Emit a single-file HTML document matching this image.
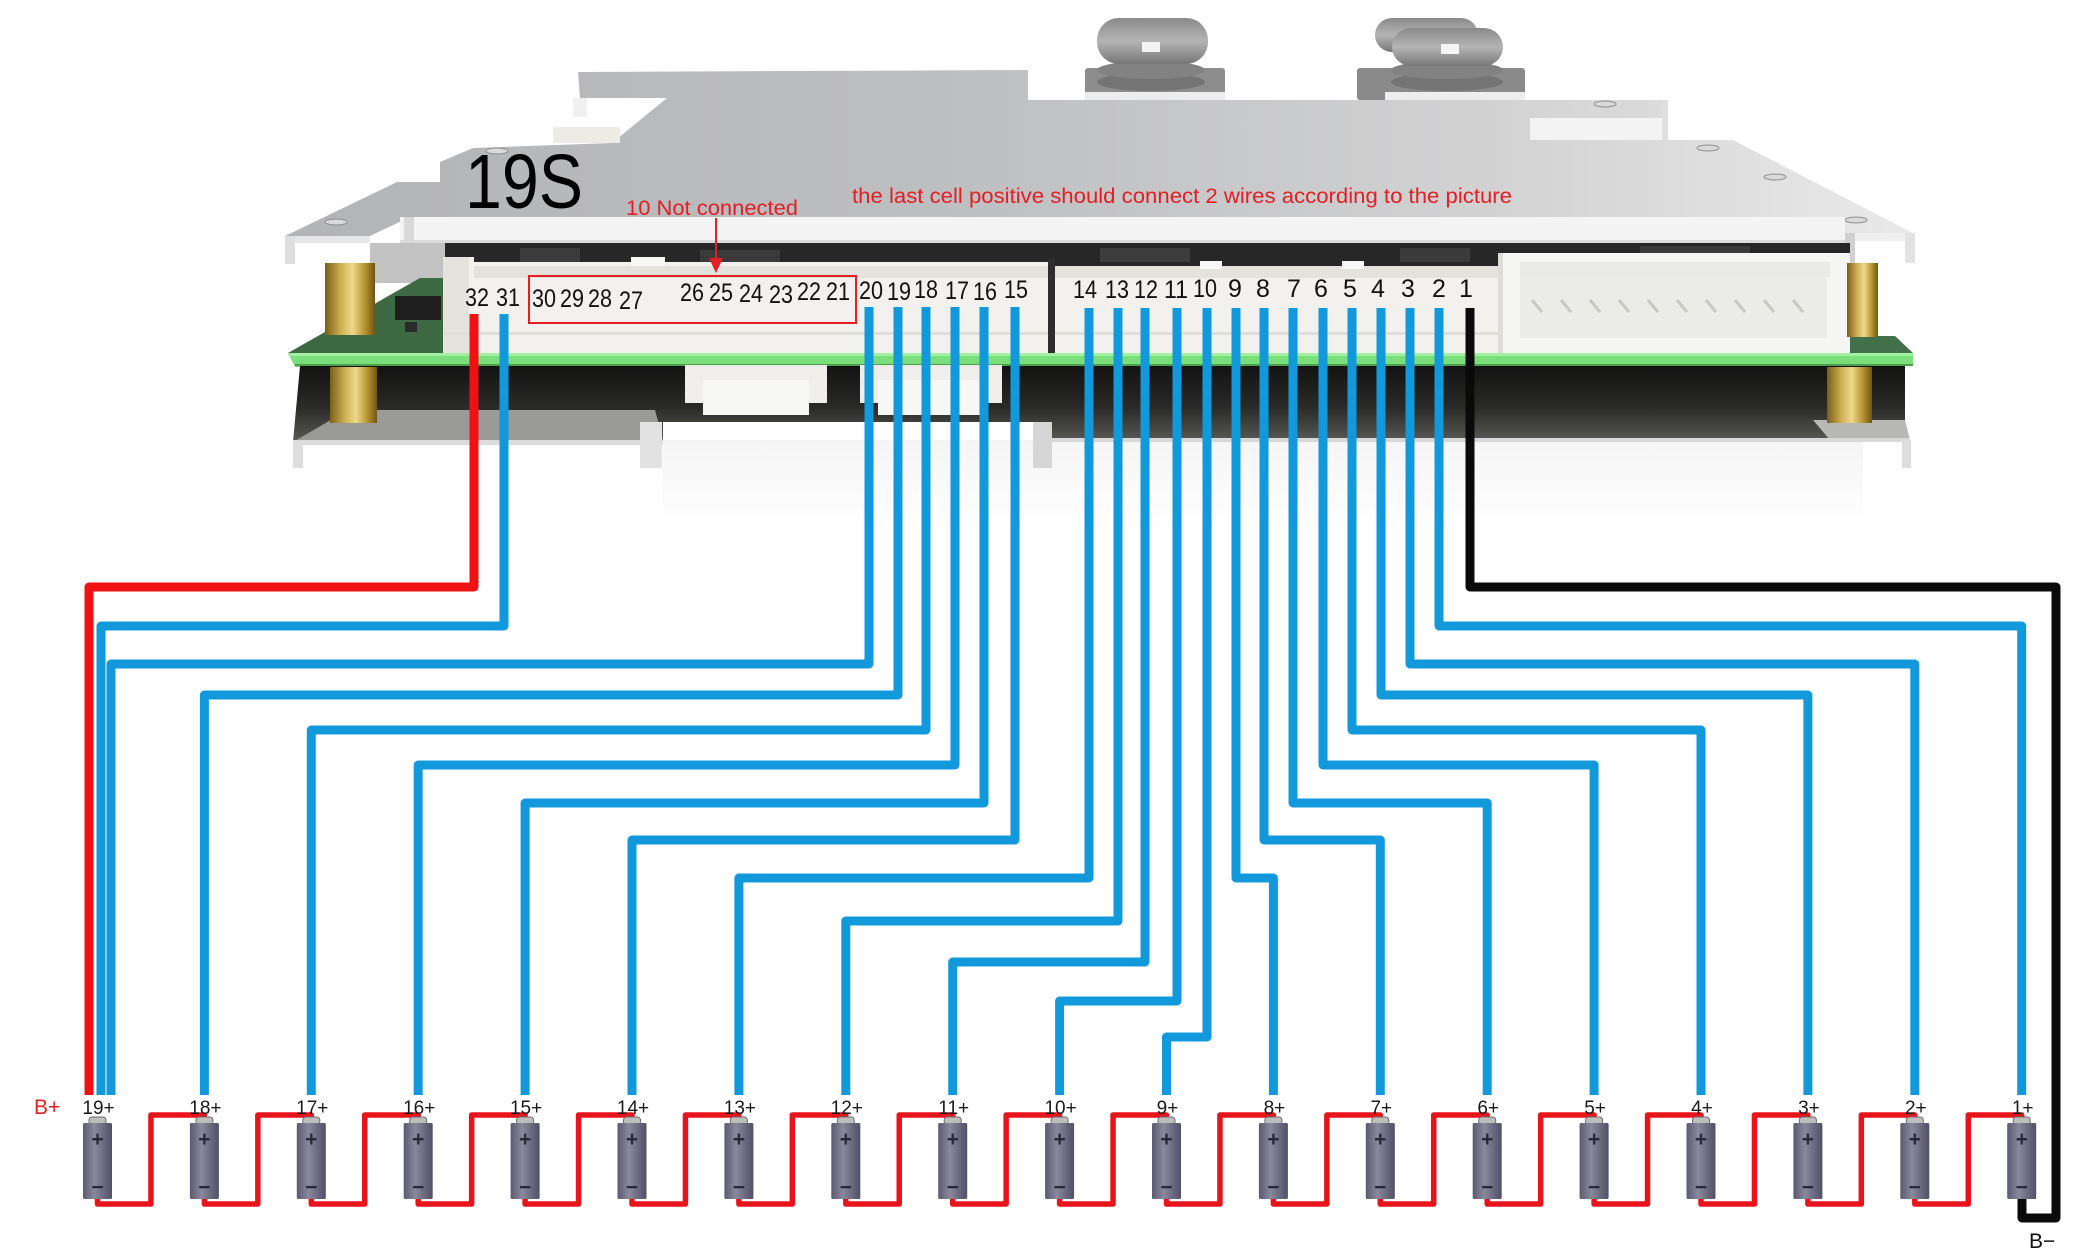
<!DOCTYPE html>
<html><head><meta charset="utf-8"><style>
html,body{margin:0;padding:0;background:#fff;}
svg{display:block;}
text{font-family:"Liberation Sans",sans-serif;}
</style></head><body>
<svg width="2080" height="1259" viewBox="0 0 2080 1259" xmlns="http://www.w3.org/2000/svg">
<defs>
<linearGradient id="plate" x1="0" y1="0" x2="1" y2="0">
<stop offset="0" stop-color="#b3b4b6"/><stop offset="0.4" stop-color="#bdbec0"/><stop offset="0.75" stop-color="#d3d3d4"/><stop offset="1" stop-color="#e9e9e9"/></linearGradient>
<linearGradient id="dark" x1="0" y1="0" x2="0" y2="1">
<stop offset="0" stop-color="#121212"/><stop offset="0.55" stop-color="#2a2b28"/><stop offset="1" stop-color="#5a5a56"/></linearGradient>
<linearGradient id="brass" x1="0" y1="0" x2="1" y2="0">
<stop offset="0" stop-color="#7a5e18"/><stop offset="0.3" stop-color="#c9ac50"/><stop offset="0.55" stop-color="#efd98a"/><stop offset="0.8" stop-color="#b5932f"/><stop offset="1" stop-color="#6f5514"/></linearGradient>
<linearGradient id="cellg" x1="0" y1="0" x2="1" y2="0">
<stop offset="0" stop-color="#5c5a6e"/><stop offset="0.4" stop-color="#8a889c"/><stop offset="0.7" stop-color="#6d6b80"/><stop offset="1" stop-color="#525066"/></linearGradient>
<linearGradient id="cap" x1="0" y1="0" x2="0" y2="1">
<stop offset="0" stop-color="#8a8a8a"/><stop offset="0.5" stop-color="#b4b4b4"/><stop offset="1" stop-color="#777777"/></linearGradient>
<linearGradient id="floor" x1="0" y1="0" x2="0" y2="1">
<stop offset="0" stop-color="#f5f5f5"/><stop offset="1" stop-color="#ffffff"/></linearGradient>
<g id="cell">
<rect x="-8.5" y="-6" width="17" height="8" rx="3" fill="#bdbdbd" stroke="#6c6c6c" stroke-width="1"/>
<rect x="-14.5" y="0" width="29" height="76" rx="1.5" fill="url(#cellg)"/>
</g>
</defs>

<!-- floor shading -->
<rect x="663" y="440" width="1200" height="90" fill="url(#floor)"/>

<!-- knobs -->
<g>
<rect x="1085" y="68" width="140" height="32" rx="3" fill="#8d8d8d"/>
<rect x="1085" y="92" width="140" height="8" fill="#ededed"/>
<ellipse cx="1151" cy="82" rx="54" ry="9" fill="#747474"/>
<ellipse cx="1151" cy="70" rx="54" ry="9" fill="#828282"/>
<rect x="1097" y="18" width="111" height="46" rx="22" fill="url(#cap)"/>
<rect x="1142" y="42" width="18" height="10" fill="#f4f4f4"/>
<rect x="1357" y="68" width="168" height="32" rx="3" fill="#8a8a8a"/>
<rect x="1385" y="92" width="140" height="8" fill="#ededed"/>
<ellipse cx="1447" cy="82" rx="56" ry="9" fill="#747474"/>
<ellipse cx="1447" cy="70" rx="56" ry="9" fill="#828282"/>
<rect x="1375" y="18" width="103" height="34" rx="17" fill="url(#cap)"/>
<rect x="1392" y="28" width="111" height="38" rx="19" fill="url(#cap)"/>
<rect x="1441" y="44" width="18" height="10" fill="#f4f4f4"/>
</g>

<!-- top plate -->
<polygon points="285,236 397,182 440,182 440,162 473,148 612,143 667,98 580,98 578,72 1028,70 1028,100 1667,100 1667,118 1530,118 1530,140 1733,140 1913,233 1845,233 1805,217 410,217 370,236" fill="url(#plate)"/>
<rect x="573" y="98" width="14" height="19" fill="#f0f0f0"/>
<rect x="553" y="127" width="67" height="16" fill="#ecebe6"/>
<rect x="1530" y="118" width="137" height="22" fill="#f3f3f3"/>
<rect x="1662" y="100" width="6" height="40" fill="#e0e0e0"/>
<ellipse cx="497" cy="151" rx="11" ry="3" fill="#d9d9d9" stroke="#8f8f8f" stroke-width="1"/>
<ellipse cx="336" cy="222" rx="11" ry="3" fill="#d9d9d9" stroke="#8f8f8f" stroke-width="1"/>
<ellipse cx="1605" cy="104" rx="11" ry="3" fill="#d9d9d9" stroke="#8f8f8f" stroke-width="1"/>
<ellipse cx="1708" cy="148" rx="11" ry="3" fill="#d9d9d9" stroke="#8f8f8f" stroke-width="1"/>
<ellipse cx="1775" cy="177" rx="11" ry="3" fill="#d9d9d9" stroke="#8f8f8f" stroke-width="1"/>
<ellipse cx="1856" cy="220" rx="11" ry="3" fill="#d9d9d9" stroke="#8f8f8f" stroke-width="1"/>

<!-- front face of plate -->
<rect x="400" y="217" width="1445" height="27" fill="#f4f4f4"/>
<rect x="400" y="240" width="1445" height="4" fill="#dcdcdc"/>
<polygon points="285,236 370,236 370,243 295,243" fill="#e6e6e6"/>
<rect x="285" y="236" width="10" height="28" fill="#dedede"/>
<rect x="404" y="217" width="10" height="28" fill="#d9d9d9"/>
<rect x="1845" y="233" width="70" height="8" fill="#eeeeee"/>
<rect x="1905" y="233" width="10" height="30" fill="#e2e2e2"/>
<rect x="1845" y="233" width="10" height="30" fill="#d0d0d0"/>

<!-- area under top plate -->
<rect x="370" y="243" width="75" height="40" fill="#c2c2c2"/>
<rect x="445" y="243" width="1405" height="32" fill="#272727"/>
<rect x="520" y="248" width="60" height="14" fill="#3c3c3c"/>
<rect x="700" y="250" width="80" height="12" fill="#3a3a3a"/>
<rect x="1100" y="248" width="90" height="14" fill="#3d3d3d"/>
<rect x="1400" y="248" width="70" height="14" fill="#3a3a3a"/>
<rect x="1640" y="246" width="110" height="16" fill="#3b3b3b"/>

<!-- PCB top surface left/right -->
<polygon points="288,353 420,278 445,278 445,353" fill="#3d6a43"/>
<rect x="395" y="296" width="46" height="24" fill="#1e1e1e"/>
<rect x="405" y="322" width="12" height="10" fill="#2b2b2b"/>
<polygon points="1850,336 1895,336 1913,353 1850,353" fill="#41704a"/>

<!-- connectors -->
<polygon points="443,257 474,257 474,262 1048,262 1048,355 443,355" fill="#f2f1ed"/>
<rect x="443" y="257" width="26" height="98" fill="#e4e3de"/>
<rect x="631" y="257" width="34" height="10" fill="#f7f7f5"/>
<rect x="474" y="266" width="574" height="12" fill="#e3e2dc"/>
<rect x="443" y="332" width="605" height="3" fill="#e0dfda"/>
<rect x="1048" y="258" width="7" height="97" fill="#2e2e2e"/>
<rect x="1055" y="266" width="443" height="89" fill="#f2f1ed"/>
<rect x="1055" y="266" width="443" height="12" fill="#e3e2dc"/>
<rect x="1200" y="261" width="22" height="8" fill="#f7f7f5"/>
<rect x="1342" y="261" width="22" height="8" fill="#f7f7f5"/>
<rect x="1055" y="332" width="443" height="3" fill="#e0dfda"/>
<rect x="1498" y="253" width="352" height="102" fill="#f5f5f3"/>
<rect x="1520" y="262" width="310" height="15" fill="#e9e9e5"/>
<rect x="1520" y="277" width="307" height="61" fill="#ebebe7"/>
<rect x="1498" y="253" width="5" height="102" fill="#dcdcd8"/>
<g stroke="#c9c9c4" stroke-width="3">
<line x1="1532" y1="300" x2="1542" y2="312"/><line x1="1561" y1="300" x2="1571" y2="312"/><line x1="1590" y1="300" x2="1600" y2="312"/><line x1="1619" y1="300" x2="1629" y2="312"/><line x1="1648" y1="300" x2="1658" y2="312"/><line x1="1677" y1="300" x2="1687" y2="312"/><line x1="1706" y1="300" x2="1716" y2="312"/><line x1="1735" y1="300" x2="1745" y2="312"/><line x1="1764" y1="300" x2="1774" y2="312"/><line x1="1793" y1="300" x2="1803" y2="312"/>
</g>

<!-- green PCB edge -->
<polygon points="288,353 1913,353 1913,365 295,367" fill="#7ade7a"/>
<rect x="290" y="353" width="1623" height="3" fill="#a3f0a3"/>
<rect x="295" y="364" width="1618" height="2" fill="#4e9f4e"/>

<!-- underside -->
<polygon points="300,366 1905,366 1905,440 1052,440 1052,422 663,422 663,440 293,442" fill="url(#dark)"/>
<polygon points="293,442 348,410 655,410 663,440" fill="#9a9a98"/>
<rect x="293" y="440" width="370" height="5" fill="#dcdcdc"/>
<rect x="293" y="440" width="10" height="28" fill="#dedede"/>
<rect x="640" y="422" width="22" height="46" fill="#e2e2e2"/>
<rect x="1033" y="422" width="19" height="46" fill="#d6d6d6"/>
<polygon points="1813,420 1905,420 1910,440 1830,440" fill="#b8b8b6"/>
<rect x="1052" y="438" width="858" height="4" fill="#d8d8d8"/>
<rect x="1902" y="440" width="9" height="28" fill="#dedede"/>
<!-- hanging connectors -->
<rect x="685" y="365" width="142" height="38" fill="#efeeea"/>
<rect x="703" y="380" width="106" height="35" fill="#f7f7f4"/>
<rect x="860" y="365" width="142" height="38" fill="#efeeea"/>
<rect x="878" y="380" width="106" height="35" fill="#f7f7f4"/>

<!-- standoffs -->
<rect x="325" y="263" width="50" height="72" fill="url(#brass)"/>
<rect x="330" y="367" width="47" height="56" fill="url(#brass)"/>
<rect x="1847" y="263" width="31" height="74" fill="url(#brass)"/>
<rect x="1827" y="367" width="45" height="56" fill="url(#brass)"/>

<!-- labels on board -->
<text x="465" y="208" font-size="77" textLength="118" lengthAdjust="spacingAndGlyphs" fill="#000">19S</text>
<text x="626" y="215" font-size="21" textLength="172" lengthAdjust="spacingAndGlyphs" fill="#e31e24">10 Not connected</text>
<text x="852" y="203" font-size="21" textLength="660" lengthAdjust="spacingAndGlyphs" fill="#e31e24">the last cell positive should connect 2 wires according to the picture</text>
<line x1="716" y1="218" x2="716" y2="262" stroke="#e31e24" stroke-width="2"/>
<polygon points="709,258 723,258 716,273" fill="#e31e24"/>
<rect x="529" y="276" width="327" height="47" fill="none" stroke="#e31e24" stroke-width="2"/>

<g font-size="25" fill="#111" text-anchor="middle">
<text x="477" y="306" textLength="24" lengthAdjust="spacingAndGlyphs">32</text>
<text x="508" y="306" textLength="24" lengthAdjust="spacingAndGlyphs">31</text>
<text x="544" y="307" textLength="24" lengthAdjust="spacingAndGlyphs">30</text>
<text x="572" y="307" textLength="24" lengthAdjust="spacingAndGlyphs">29</text>
<text x="600" y="307" textLength="24" lengthAdjust="spacingAndGlyphs">28</text>
<text x="631" y="309" textLength="24" lengthAdjust="spacingAndGlyphs">27</text>
<text x="692" y="301" textLength="24" lengthAdjust="spacingAndGlyphs">26</text>
<text x="721" y="301" textLength="24" lengthAdjust="spacingAndGlyphs">25</text>
<text x="751" y="302" textLength="24" lengthAdjust="spacingAndGlyphs">24</text>
<text x="781" y="303" textLength="24" lengthAdjust="spacingAndGlyphs">23</text>
<text x="809" y="300" textLength="24" lengthAdjust="spacingAndGlyphs">22</text>
<text x="838" y="300" textLength="24" lengthAdjust="spacingAndGlyphs">21</text>
<text x="871" y="299" textLength="24" lengthAdjust="spacingAndGlyphs">20</text>
<text x="899" y="300" textLength="24" lengthAdjust="spacingAndGlyphs">19</text>
<text x="926" y="298" textLength="24" lengthAdjust="spacingAndGlyphs">18</text>
<text x="957" y="299" textLength="24" lengthAdjust="spacingAndGlyphs">17</text>
<text x="985" y="300" textLength="24" lengthAdjust="spacingAndGlyphs">16</text>
<text x="1016" y="298" textLength="24" lengthAdjust="spacingAndGlyphs">15</text>
<text x="1085" y="298" textLength="24" lengthAdjust="spacingAndGlyphs">14</text>
<text x="1117" y="298" textLength="24" lengthAdjust="spacingAndGlyphs">13</text>
<text x="1146" y="298" textLength="24" lengthAdjust="spacingAndGlyphs">12</text>
<text x="1176" y="298" textLength="24" lengthAdjust="spacingAndGlyphs">11</text>
<text x="1205" y="297" textLength="24" lengthAdjust="spacingAndGlyphs">10</text>
<text x="1235" y="297">9</text>
<text x="1263" y="297">8</text>
<text x="1294" y="297">7</text>
<text x="1321" y="297">6</text>
<text x="1350" y="297">5</text>
<text x="1378" y="297">4</text>
<text x="1408" y="297">3</text>
<text x="1439" y="297">2</text>
<text x="1466" y="297">1</text>
</g>

<!-- series links -->
<g fill="none" stroke="#e8141c" stroke-width="5.5" stroke-linejoin="round" stroke-linecap="round">
<path d="M97.5 1199V1204H150.95V1115H204.4V1120"/>
<path d="M204.4 1199V1204H257.85V1115H311.3V1120"/>
<path d="M311.3 1199V1204H364.75V1115H418.2V1120"/>
<path d="M418.2 1199V1204H471.65V1115H525.1V1120"/>
<path d="M525.1 1199V1204H578.55V1115H632V1120"/>
<path d="M632 1199V1204H685.45V1115H738.9V1120"/>
<path d="M738.9 1199V1204H792.35V1115H845.8V1120"/>
<path d="M845.8 1199V1204H899.25V1115H952.7V1120"/>
<path d="M952.7 1199V1204H1006.15V1115H1059.6V1120"/>
<path d="M1059.6 1199V1204H1113.05V1115H1166.5V1120"/>
<path d="M1166.5 1199V1204H1219.95V1115H1273.4V1120"/>
<path d="M1273.4 1199V1204H1326.85V1115H1380.3V1120"/>
<path d="M1380.3 1199V1204H1433.75V1115H1487.2V1120"/>
<path d="M1487.2 1199V1204H1540.65V1115H1594.1V1120"/>
<path d="M1594.1 1199V1204H1647.55V1115H1701V1120"/>
<path d="M1701 1199V1204H1754.45V1115H1807.9V1120"/>
<path d="M1807.9 1199V1204H1861.35V1115H1914.8V1120"/>
<path d="M1914.8 1199V1204H1968.25V1115H2021.7V1120"/>
</g>

<!-- cells -->
<use href="#cell" x="97.5" y="1123"/><use href="#cell" x="204.4" y="1123"/><use href="#cell" x="311.3" y="1123"/><use href="#cell" x="418.2" y="1123"/><use href="#cell" x="525.1" y="1123"/><use href="#cell" x="632" y="1123"/><use href="#cell" x="738.9" y="1123"/><use href="#cell" x="845.8" y="1123"/><use href="#cell" x="952.7" y="1123"/><use href="#cell" x="1059.6" y="1123"/><use href="#cell" x="1166.5" y="1123"/><use href="#cell" x="1273.4" y="1123"/><use href="#cell" x="1380.3" y="1123"/><use href="#cell" x="1487.2" y="1123"/><use href="#cell" x="1594.1" y="1123"/><use href="#cell" x="1701" y="1123"/><use href="#cell" x="1807.9" y="1123"/><use href="#cell" x="1914.8" y="1123"/><use href="#cell" x="2021.7" y="1123"/>

<g font-size="21" font-weight="bold" fill="#2a2838" text-anchor="middle">
<text x="97.5" y="1146">+</text><text x="204.4" y="1146">+</text><text x="311.3" y="1146">+</text><text x="418.2" y="1146">+</text><text x="525.1" y="1146">+</text><text x="632" y="1146">+</text><text x="738.9" y="1146">+</text><text x="845.8" y="1146">+</text><text x="952.7" y="1146">+</text><text x="1059.6" y="1146">+</text><text x="1166.5" y="1146">+</text><text x="1273.4" y="1146">+</text><text x="1380.3" y="1146">+</text><text x="1487.2" y="1146">+</text><text x="1594.1" y="1146">+</text><text x="1701" y="1146">+</text><text x="1807.9" y="1146">+</text><text x="1914.8" y="1146">+</text><text x="2021.7" y="1146">+</text>
<text x="97.5" y="1194">−</text><text x="204.4" y="1194">−</text><text x="311.3" y="1194">−</text><text x="418.2" y="1194">−</text><text x="525.1" y="1194">−</text><text x="632" y="1194">−</text><text x="738.9" y="1194">−</text><text x="845.8" y="1194">−</text><text x="952.7" y="1194">−</text><text x="1059.6" y="1194">−</text><text x="1166.5" y="1194">−</text><text x="1273.4" y="1194">−</text><text x="1380.3" y="1194">−</text><text x="1487.2" y="1194">−</text><text x="1594.1" y="1194">−</text><text x="1701" y="1194">−</text><text x="1807.9" y="1194">−</text><text x="1914.8" y="1194">−</text><text x="2021.7" y="1194">−</text>
</g>

<!-- wires -->
<g fill="none" stroke-width="9" stroke-linejoin="round">
<path d="M474 314V587H89V1095" stroke="#f01212"/>
<g stroke="#1299dc">
<path d="M504 314V626H101V1095"/>
<path d="M869 307V664H111V1095"/>
<path d="M898 307V695H204.4V1095"/>
<path d="M926 307V730H311.3V1095"/>
<path d="M955 307V765H418.2V1095"/>
<path d="M984 307V803H525.1V1095"/>
<path d="M1015 307V840H632V1095"/>
<path d="M1089 308V878H738.9V1095"/>
<path d="M1118 308V921H845.8V1095"/>
<path d="M1145 308V962H952.7V1095"/>
<path d="M1177 308V1001H1059.6V1095"/>
<path d="M1207 308V1037H1166.5V1095"/>
<path d="M1236 308V878H1273.4V1095"/>
<path d="M1264 308V840H1380.3V1095"/>
<path d="M1293 308V803H1487.2V1095"/>
<path d="M1323 308V765H1594.1V1095"/>
<path d="M1352 308V730H1701V1095"/>
<path d="M1381 308V695H1807.9V1095"/>
<path d="M1410 308V664H1914.8V1095"/>
<path d="M1439 308V626H2021.7V1095"/>
</g>
<path d="M1470 308V587H2056V1218H2022V1199" stroke="#0a0a0a"/>
</g>

<!-- cell labels -->
<g font-size="19" fill="#1a1a1a" text-anchor="middle">
<text x="98.5" y="1114">19+</text><text x="205.4" y="1114">18+</text><text x="312.3" y="1114">17+</text><text x="419.2" y="1114">16+</text><text x="526.1" y="1114">15+</text><text x="633" y="1114">14+</text><text x="739.9" y="1114">13+</text><text x="846.8" y="1114">12+</text><text x="953.7" y="1114">11+</text><text x="1060.6" y="1114">10+</text><text x="1167.5" y="1114">9+</text><text x="1274.4" y="1114">8+</text><text x="1381.3" y="1114">7+</text><text x="1488.2" y="1114">6+</text><text x="1595.1" y="1114">5+</text><text x="1702" y="1114">4+</text><text x="1808.9" y="1114">3+</text><text x="1915.8" y="1114">2+</text><text x="2022.7" y="1114">1+</text>
</g>
<text x="34" y="1114" font-size="21" fill="#e31e24">B+</text>
<text x="2029" y="1248" font-size="21" fill="#111">B−</text>
</svg>
</body></html>
